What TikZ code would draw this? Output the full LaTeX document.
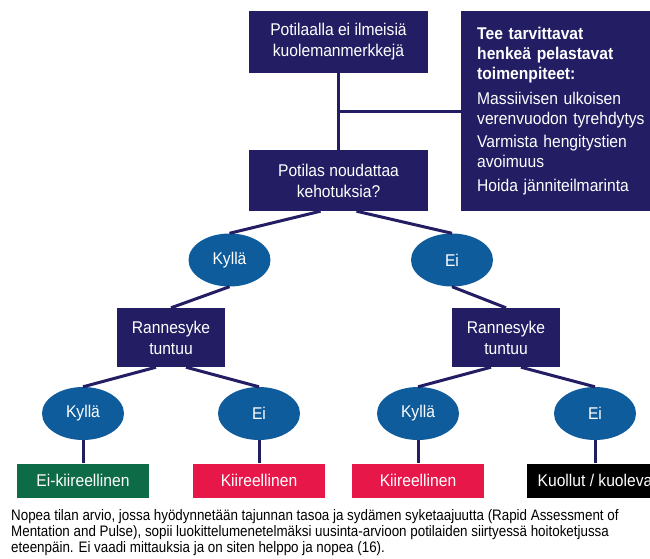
\documentclass[tikz,border=0pt]{standalone}
\usepackage{fontspec}
\setmainfont{Liberation Sans}[FakeStretch=0.92]
\newfontfamily\capfont{Liberation Sans}[FakeStretch=0.88]
\usetikzlibrary{shapes.geometric}

\definecolor{navy}{RGB}{35,30,100}
\definecolor{oval}{RGB}{15,92,156}
\definecolor{okgreen}{RGB}{14,107,71}
\definecolor{urgred}{RGB}{232,23,74}

\tikzset{
  qbox/.style={fill=navy, text=white, align=center, inner sep=0pt, font=\fontsize{17}{21}\selectfont},
  ans/.style={ellipse, fill=oval, text=white, minimum width=82, minimum height=53, inner sep=0pt, font=\fontsize{17}{20}\selectfont},
  res/.style={text=white, minimum width=132, minimum height=34, inner sep=0pt, font=\fontsize{17}{20}\selectfont},
  link/.style={draw=navy, line width=3pt},
}

\begin{document}
\begin{tikzpicture}[x=1pt,y=-1pt]

\useasboundingbox (0,0) rectangle (650,558);
\fill[white] (0,0) rectangle (650,558);
\clip (0,0) rectangle (650,558);

\node[qbox, minimum width=179, minimum height=62](signs) at (338.5,42) {Potilaalla ei ilmeisiä\\kuolemanmerkkejä};

\node[qbox, minimum width=179, minimum height=61](obeys) at (338.5,180.5) {Potilas noudattaa\\kehotuksia?};

\node[qbox, anchor=west, align=left, text width=208, inner xsep=16, minimum height=200, font=\fontsize{17}{20}\selectfont](rescue) at (461,111)
  {\textbf{Tee tarvittavat}\\\textbf{henkeä pelastavat}\\\textbf{toimenpiteet:}\\[5pt]Massiivisen ulkoisen\\verenvuodon tyrehdytys\\[3pt]Varmista hengitystien\\avoimuus\\[4pt]Hoida jänniteilmarinta};

\node[ans](yes1) at (229.5,260) {Kyllä};

\node[ans](no1) at (452,260) {Ei};

\node[qbox, minimum width=108, minimum height=59](pulseL) at (171,337.5) {Rannesyke\\tuntuu};

\node[qbox, minimum width=108, minimum height=59](pulseR) at (506,337.5) {Rannesyke\\tuntuu};

\node[ans](yes2) at (83,413.5) {Kyllä};

\node[ans](no2) at (259,413.5) {Ei};

\node[ans](yes3) at (418,413.5) {Kyllä};

\node[ans](no3) at (595,413.5) {Ei};

\node[res, fill=okgreen](green) at (83,480.5) {Ei-kiireellinen};

\node[res, fill=urgred](redL) at (259,480.5) {Kiireellinen};

\node[res, fill=urgred](redR) at (418,480.5) {Kiireellinen};

\node[res, fill=black, minimum width=136](dead) at (595,480.5) {Kuollut / kuoleva};

\node[anchor=north west, align=left, inner sep=0pt, font=\capfont\fontsize{15.2}{16.2}\selectfont](caption) at (11,509)
  {Nopea tilan arvio, jossa hyödynnetään tajunnan tasoa ja sydämen syketaajuutta (Rapid Assessment of\\
   Mentation and Pulse), sopii luokittelumenetelmäksi uusinta-arvioon potilaiden siirtyessä hoitoketjussa\\
   eteenpäin. Ei vaadi mittauksia ja on siten helppo ja nopea (16).};

\draw[link] (signs) -- (obeys);
\draw[link] (rescue.west) -- (rescue.west -| signs.south);

\foreach \from/\to/\dx in {obeys/yes1/-18, obeys/no1/18, pulseL/yes2/-15, pulseL/no2/15, pulseR/yes3/-15, pulseR/no3/15}
    \draw[link] ([xshift=\dx]\from.south) -- (\to.north);

\foreach \from/\to in {yes1/pulseL, no1/pulseR, yes2/green, no2/redL, yes3/redR, no3/dead}
    \draw[link] (\from.south) -- (\to.north);

\end{tikzpicture}
\end{document}
